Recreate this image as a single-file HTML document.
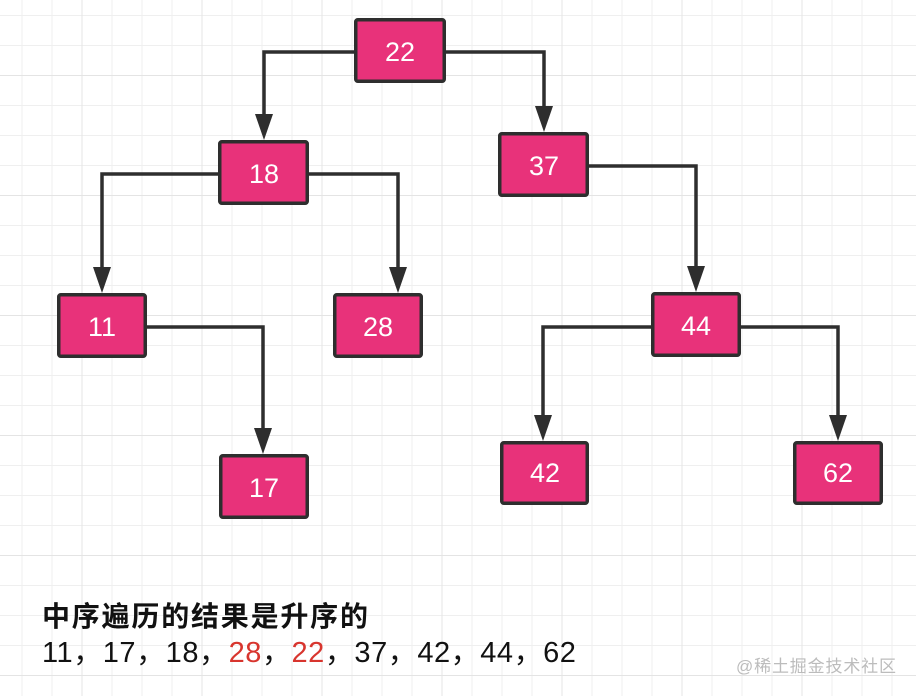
<!DOCTYPE html>
<html>
<head>
<meta charset="utf-8">
<style>
  html, body { margin: 0; padding: 0; background: #ffffff; }
  body { width: 916px; height: 696px; overflow: hidden; }
  svg { display: block; }
</style>
</head>
<body>
<svg width="916" height="696" viewBox="0 0 916 696" xmlns="http://www.w3.org/2000/svg">
  <rect x="0" y="0" width="916" height="696" fill="#ffffff"/>
  <defs>
    <pattern id="minor" x="0" y="0" width="30" height="30" patternUnits="userSpaceOnUse" patternTransform="translate(21.5,15)">
      <path d="M0 0 V30 M0 0 H30" stroke="#efefef" stroke-width="2" fill="none"/>
    </pattern>
    <pattern id="major" x="0" y="0" width="120" height="120" patternUnits="userSpaceOnUse" patternTransform="translate(81.5,75)">
      <path d="M0 0 V120 M0 0 H120" stroke="#e4e4e4" stroke-width="2" fill="none"/>
    </pattern>
  </defs>
  <rect x="0" y="0" width="916" height="696" fill="url(#minor)"/>
  <rect x="0" y="0" width="916" height="696" fill="url(#major)"/>

  <!-- connectors -->
  <g stroke="#2e2e2e" stroke-width="3.5" fill="none" stroke-linejoin="miter">
    <path d="M354 52 H264 V116"/>
    <path d="M446 52 H544 V108"/>
    <path d="M218 174 H102 V269"/>
    <path d="M309 174 H398 V269"/>
    <path d="M147 327 H263 V430"/>
    <path d="M589 166 H696 V268"/>
    <path d="M651 327 H543 V417"/>
    <path d="M741 327 H838 V417"/>
  </g>
  <g fill="#2e2e2e">
    <polygon points="255,114 273,114 264,140"/>
    <polygon points="535,106 553,106 544,132"/>
    <polygon points="93,267 111,267 102,293"/>
    <polygon points="389,267 407,267 398,293"/>
    <polygon points="254,428 272,428 263,454"/>
    <polygon points="687,266 705,266 696,292"/>
    <polygon points="534,415 552,415 543,441"/>
    <polygon points="829,415 847,415 838,441"/>
  </g>

  <!-- nodes -->
  <g fill="#e8327a" stroke="#2e2e2e" stroke-width="3.5">
    <rect x="355.75" y="19.75" width="88.5" height="61.5" rx="2"/>
    <rect x="219.75" y="141.75" width="87.5" height="61.5" rx="2"/>
    <rect x="499.75" y="133.75" width="87.5" height="61.5" rx="2"/>
    <rect x="58.75" y="294.75" width="86.5" height="61.5" rx="2"/>
    <rect x="334.75" y="294.75" width="86.5" height="61.5" rx="2"/>
    <rect x="652.75" y="293.75" width="86.5" height="61.5" rx="2"/>
    <rect x="220.75" y="455.75" width="86.5" height="61.5" rx="2"/>
    <rect x="501.75" y="442.75" width="85.5" height="60.5" rx="2"/>
    <rect x="794.75" y="442.75" width="86.5" height="60.5" rx="2"/>
  </g>
  <g fill="#ffffff" font-family="'Liberation Sans', sans-serif" font-size="27" text-anchor="middle">
    <text x="400" y="61">22</text>
    <text x="264" y="183">18</text>
    <text x="544" y="175">37</text>
    <text x="102" y="336">11</text>
    <text x="378" y="336">28</text>
    <text x="696" y="335">44</text>
    <text x="264" y="497">17</text>
    <text x="545" y="482">42</text>
    <text x="838" y="482">62</text>
  </g>

  <!-- bottom text -->
  <text x="42" y="626" font-family="'Liberation Sans', 'Noto Sans CJK SC', sans-serif" font-size="28" font-weight="bold" fill="#111111" textLength="326" lengthAdjust="spacing">中序遍历的结果是升序的</text>
  <text x="42" y="662" font-family="'Liberation Sans', 'Noto Sans CJK SC', sans-serif" font-size="29" fill="#111111" letter-spacing="0.55">11，17，18，<tspan fill="#d8352e">28</tspan>，<tspan fill="#d8352e">22</tspan>，37，42，44，62</text>

  <text x="736" y="672" font-family="'Liberation Sans', 'Noto Sans CJK SC', sans-serif" font-size="17" fill="#bcbcbc" textLength="160" lengthAdjust="spacing">@稀土掘金技术社区</text>
</svg>
</body>
</html>
